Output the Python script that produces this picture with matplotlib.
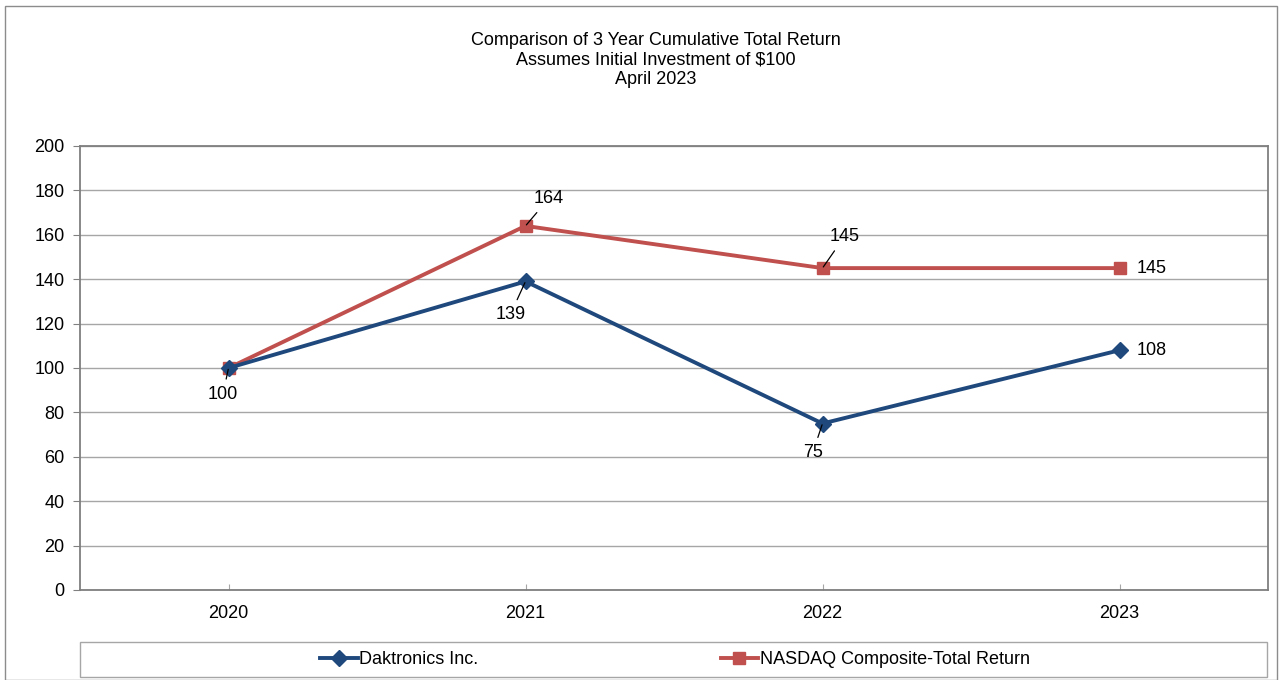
import matplotlib
matplotlib.use("Agg")
import matplotlib.pyplot as plt
from matplotlib.patches import Rectangle

plt.rcParams['font.family'] = ['Liberation Sans', 'DejaVu Sans']

years = ['2020', '2021', '2022', '2023']
daktronics = [100, 139, 75, 108]
nasdaq = [100, 164, 145, 145]
dak_labels = ['100', '139', '75', '108']
nas_labels = [None, '164', '145', '145']
yticks = [0, 20, 40, 60, 80, 100, 120, 140, 160, 180, 200]

blue = '#1F497D'
red = '#C0504D'
fs = 13

fig = plt.figure(figsize=(12.79, 6.8), dpi=100)
ax = fig.add_axes([80 / 1279, 1 - 590 / 680, 1188 / 1279, 444 / 680])

x = range(len(years))
ax.plot(x, nasdaq, color=red, lw=2.8, marker='s', ms=9,
        label='NASDAQ Composite-Total Return', zorder=3)
ax.plot(x, daktronics, color=blue, lw=2.8, marker='D', ms=8,
        label='Daktronics Inc.', zorder=4)

# label offsets in points (dx, dy) and whether a leader line is drawn
dak_off = [(-4, -19, True), (-11, -24, True), (-7, -21, True), (23, 0, False)]
nas_off = [None, (17, 20, True), (16, 23, True), (23, 0, False)]

def put_labels(vals, labels, offs):
    for i, (v, lab, off) in enumerate(zip(vals, labels, offs)):
        if lab is None:
            continue
        dx, dy, lead = off
        kw = {}
        if lead:
            kw['arrowprops'] = dict(arrowstyle='-', color='black', lw=0.9,
                                    shrinkA=3, shrinkB=1)
        ax.annotate(lab, (i, v), xytext=(dx, dy), textcoords='offset points',
                    ha='center', va='center', fontsize=fs, zorder=5, **kw)

put_labels(daktronics, dak_labels, dak_off)
put_labels(nasdaq, nas_labels, nas_off)

ax.set_xlim(-0.5, len(years) - 0.5)
ax.set_ylim(0, 200)
ax.set_yticks(yticks)
ax.set_xticks(list(x))
ax.set_xticklabels(years)
ax.yaxis.grid(True, color='#A6A6A6', lw=1)
ax.set_axisbelow(True)
ax.tick_params(axis='y', labelsize=fs, length=5, color='#808080', pad=6)
ax.tick_params(axis='x', labelsize=fs, direction='in', length=4,
               color='#A6A6A6', pad=11)
for s in ax.spines.values():
    s.set_color('#7F7F7F')
    s.set_linewidth(1.3)

fig.text(656 / 1279, 1 - 60 / 680,
         'Comparison of 3 Year Cumulative Total Return\n'
         'Assumes Initial Investment of $100\nApril 2023',
         ha='center', va='center', fontsize=fs, linespacing=1.2)

# legend box under the plot
fig.patches.append(Rectangle((80 / 1279, 1 - 677 / 680), 1187 / 1279, 35 / 680,
                             transform=fig.transFigure, fill=False,
                             edgecolor='#A6A6A6', lw=1))
h, l = ax.get_legend_handles_labels()
fig.legend(h[::-1], l[::-1], loc='center', bbox_to_anchor=(675 / 1279, 1 - 659.5 / 680),
           ncol=2, frameon=False, fontsize=fs, handlelength=2.1,
           handletextpad=0.1, columnspacing=13.4)

# outer chart border
fig.patches.append(Rectangle((5 / 1279, 0), 1272 / 1279, 1 - 6 / 680,
                             transform=fig.transFigure, fill=False,
                             edgecolor='#8C8C8C', lw=1))

fig.savefig('out.png', dpi=100)
